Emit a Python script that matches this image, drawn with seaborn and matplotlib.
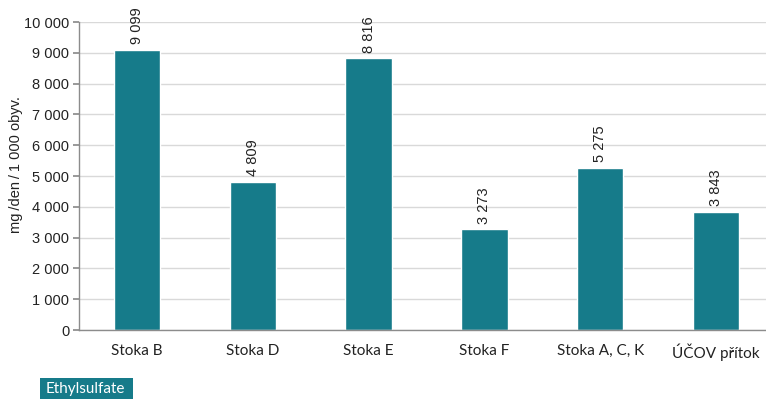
import matplotlib
matplotlib.use("Agg")
import matplotlib.pyplot as plt
import seaborn as sns
import pandas as pd
from matplotlib.ticker import FuncFormatter
from matplotlib.patches import Rectangle

categories = ["Stoka B", "Stoka D", "Stoka E", "Stoka F", "Stoka A, C, K", "ÚČOV přítok"]
values = [9099, 4809, 8816, 3273, 5275, 3843]
y_ticks = [0, 1000, 2000, 3000, 4000, 5000, 6000, 7000, 8000, 9000, 10000]

sns.set_theme(style="white")
plt.rcParams['font.family'] = ['Liberation Sans', 'DejaVu Sans']

color = "#167b8a"
df = pd.DataFrame({"cat": categories, "val": values})

W, H = 766, 399
fig = plt.figure(figsize=(W / 100, H / 100), dpi=100)
ax = fig.add_axes([79 / W, (H - 330) / H, (774 - 79) / W, (330 - 22) / H])

sns.barplot(data=df, x="cat", y="val", color=color, width=0.4, saturation=1, ax=ax)

ax.set_ylim(0, 10000)
ax.set_xlim(-0.5, len(categories) - 0.5)
ax.set_yticks(y_ticks)
fmt = lambda v, p: f"{int(v):,}".replace(",", " ")
ax.yaxis.set_major_formatter(FuncFormatter(fmt))
ax.yaxis.grid(True, color="#d9d9d9", linewidth=1)
ax.set_axisbelow(True)
for s in ["top", "right"]:
    ax.spines[s].set_visible(False)
for s in ["left", "bottom"]:
    ax.spines[s].set_color("#8c8c8c")
    ax.spines[s].set_linewidth(1)
ax.tick_params(axis="y", left=True, length=4, color="#8c8c8c", labelsize=10.5, pad=3, labelcolor="#222222")
ax.tick_params(axis="x", bottom=False, labelsize=11, pad=4, labelcolor="#222222")
for lab in ax.get_xticklabels():
    lab.set_family(['Lato', 'DejaVu Sans'])
ax.set_xlabel("")
ax.set_ylabel("mg\u2009/den\u2009/\u20091 000 obyv.", fontsize=10.5, color="#222222")
ax.yaxis.set_label_coords((23 - 79) / 695, (330 - 165) / 308)

for i, v in enumerate(values):
    ax.text(i, v + 180, fmt(v, None), rotation=90, ha="center", va="bottom",
            fontsize=10.5, color="#222222")

fig.patches.append(Rectangle((40 / W, 0), (133 - 40) / W, (H - 378) / H,
                             transform=fig.transFigure, facecolor=color, edgecolor="none"))
fig.text(46 / W, 1 - 389 / H, "Ethylsulfate", ha="left", va="center", fontsize=11,
         color="white", family=['Lato', 'DejaVu Sans'])

fig.savefig("out.png", dpi=100)
